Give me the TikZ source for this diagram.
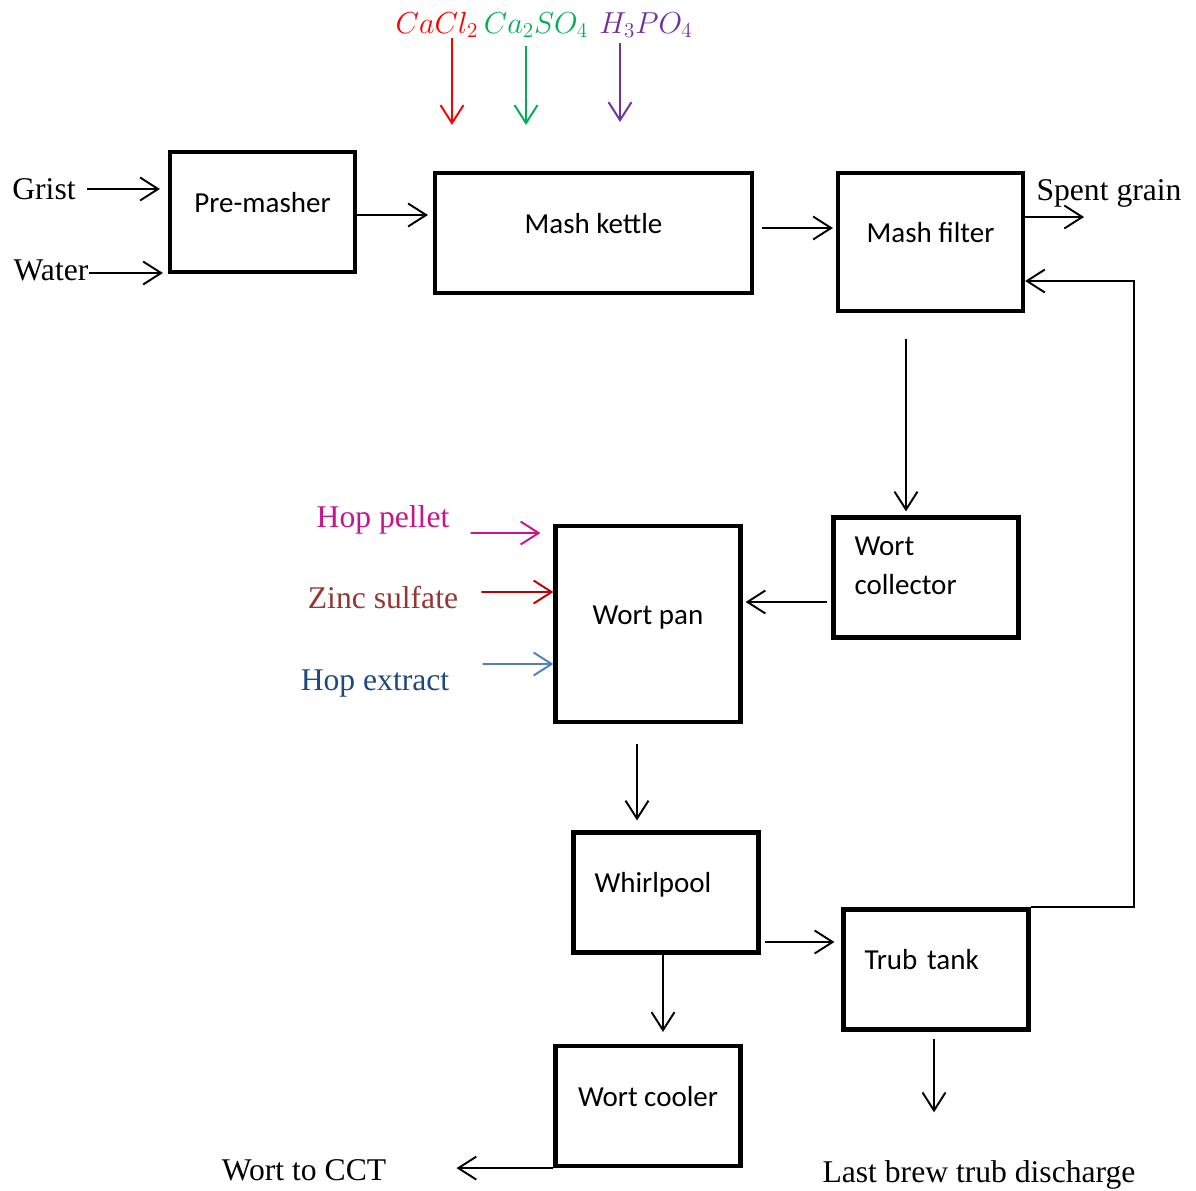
\documentclass[tikz,border=0pt]{standalone}
\usepackage{xcolor}
\usepackage{fontspec}
\setmainfont{Liberation Serif}
\newfontfamily\calfont{Carlito}
\usepackage{tikz}
\usetikzlibrary{arrows.meta}

\definecolor{caclc}{RGB}{255,0,0}
\definecolor{casoc}{RGB}{0,176,80}
\definecolor{hpoc}{RGB}{112,48,160}
\definecolor{pelletc}{RGB}{200,20,140}
\definecolor{zinctxt}{RGB}{149,55,53}
\definecolor{zincarr}{RGB}{192,0,0}
\definecolor{extxt}{RGB}{31,73,125}
\definecolor{exarr}{RGB}{79,129,189}

\tikzset{
  unit/.style={draw, line width=2.4pt, inner sep=0pt, minimum width=3.7cm, minimum height=2.4cm,
    text height=0.35cm, text depth=0.35cm, font=\calfont\fontsize{16.5}{22}\selectfont},
  lunit/.style={unit, inner xsep=0.42cm, text width=2.86cm, align=left},
  lbl/.style={inner sep=0pt, font=\fontsize{18}{22}\selectfont},
  chem/.style={inner sep=0pt, font=\fontsize{17}{20}\selectfont},
  flow/.style={-{Straight Barb[length=0.36cm,width=0.46cm]}, line width=1.1pt}
}

\begin{document}
\begin{tikzpicture}[x=0.02cm, y=-0.02cm]
        \useasboundingbox (0,0) rectangle (1196,1190);

        \node[unit] (pm) at (262.5,212) {Pre-masher};
        \node[unit, minimum width=6.34cm] (mk) at (593.5,233) {Mash kettle};
        \node[unit, minimum height=2.76cm] (mf) at (930.5,242) {Mash filter};
        \node[lunit, text height=0.32cm, text depth=1.2cm] (wc) at (926,577.5) {Wort\\collector};
        \node[unit, minimum height=3.92cm] (wp) at (648,624) {Wort pan};
        \node[lunit] (wh) at (666,892.5) {Whirlpool};
        \node[lunit] (tt) at (936,969.5) {Trub tank};
        \node[unit] (co) at (648,1106) {Wort cooler};

        \node[lbl] (grist) at (44,189) {Grist};
        \node[lbl] (water) at (51,270) {Water};
        \node[lbl] (spent) at (1109,193) {Spent grain};
        \node[lbl, text=pelletc] (pellet) at (383,520) {Hop pellet};
        \node[lbl, text=zinctxt] (zinc) at (383,598) {Zinc sulfate};
        \node[lbl, text=extxt] (extract) at (375,684) {Hop extract};
        \node[lbl] (cct) at (304,1170) {Wort to CCT};
        \node[lbl] (trub) at (979,1175) {Last brew trub discharge};

        \node[chem, text=caclc] (cacl2) at (437,25) {$CaCl_2$};
        \node[chem, text=casoc] (caso4) at (536,25) {$Ca_2SO_4$};
        \node[chem, text=hpoc] (h3po4) at (646,25) {$H_3PO_4$};

        \coordinate (ret) at (1134,281);

        \path[flow]
        ([xshift=0.22cm]grist.east) edge[shorten >=0.16cm] (pm.west |- grist.east)
        ([yshift=-0.06cm]water.east) edge[shorten >=0.1cm] ([yshift=-0.06cm]water.east -| pm.west)
        ([yshift=-0.06cm]pm.east) edge[shorten >=0.1cm] ([yshift=-0.06cm]pm.east -| mk.west)
        ([yshift=0.1cm]mk.east) edge[shorten <=0.16cm, shorten >=0.06cm] ([yshift=0.1cm]mk.east -| mf.west)

        ([xshift=0.3cm]cacl2.south) edge[draw=caclc, shorten >=0.92cm] ([xshift=0.3cm]cacl2.south |- mk.north)
        ([xshift=-0.2cm]caso4.south) edge[draw=casoc, shorten <=0.16cm, shorten >=0.92cm] ([xshift=-0.2cm]caso4.south |- mk.north)
        ([xshift=-0.52cm]h3po4.south) edge[draw=hpoc, shorten <=0.1cm, shorten >=0.98cm] ([xshift=-0.52cm]h3po4.south |- mk.north)

        ([xshift=-0.49cm]mf.south) edge[shorten <=0.52cm, shorten >=0.08cm] ([xshift=-0.49cm]mf.south |- wc.north)
        ([yshift=-0.49cm]wc.west) edge[shorten <=0.08cm, shorten >=0.06cm] ([yshift=-0.49cm]wc.west -| wp.east)

        ([xshift=0.42cm,yshift=-0.26cm]pellet.east) edge[draw=pelletc, shorten >=0.26cm] ([yshift=1.82cm]wp.west)
        ([xshift=0.46cm,yshift=0.12cm]zinc.east) edge[draw=zincarr] ([yshift=0.64cm]wp.west)
        ([xshift=0.66cm,yshift=0.4cm]extract.east) edge[draw=exarr] ([yshift=-0.8cm]wp.west)

        ([xshift=-0.22cm]wp.south) edge[shorten <=0.4cm, shorten >=0.2cm] ([xshift=-0.22cm]wp.south |- wh.north)
        ([yshift=-0.99cm]wh.east) edge[shorten <=0.08cm, shorten >=0.14cm] ([yshift=-0.99cm]wh.east -| tt.west)
        ([xshift=-0.06cm]wh.south) edge[shorten >=0.24cm] ([xshift=-0.06cm]wh.south |- co.north)
        ([xshift=-0.04cm]tt.south) edge[shorten <=0.14cm, shorten >=0.96cm] ([xshift=-0.04cm]tt.south |- trub.north)
        (co.south west) edge[shorten >=1.4cm] (cct.east |- co.south west);

        \draw[flow] ([yshift=0.5cm]mf.east) -- ++(59,0);
        \draw[flow] (tt.north east) -- (ret |- tt.north east) -- (ret) -- (ret -| mf.east);

\end{tikzpicture}
\end{document}
